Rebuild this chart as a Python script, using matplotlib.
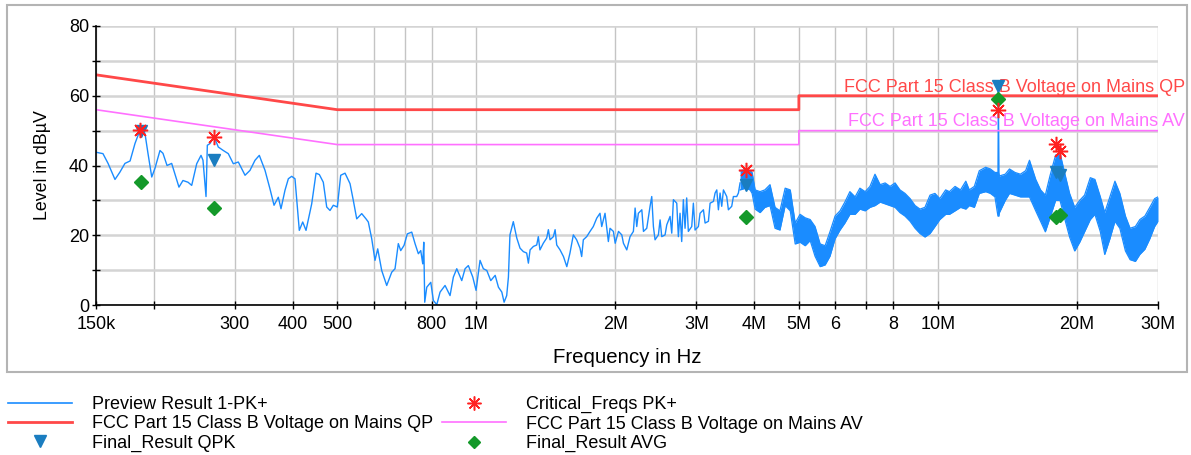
import matplotlib
matplotlib.use("Agg")
import matplotlib.pyplot as plt
from matplotlib.lines import Line2D
from matplotlib.patches import Rectangle
from matplotlib.ticker import FixedLocator, MultipleLocator, FuncFormatter
from matplotlib.transforms import blended_transform_factory

plt.rcParams['font.family'] = ['Liberation Sans', 'DejaVu Sans']

# Preview scan, 150 kHz .. 3.73 MHz (MHz, dBuV)
preview_f = [0.1500, 0.1553, 0.1593, 0.1649, 0.1690, 0.1733, 0.1778, 0.1822, 0.1870, 0.1915,
             0.1944, 0.1981, 0.2013, 0.2064, 0.2095, 0.2138, 0.2188, 0.2269, 0.2315, 0.2374,
             0.2418, 0.2479, 0.2533, 0.2558, 0.2597, 0.2614, 0.2649, 0.2703, 0.2761, 0.2831,
             0.2902, 0.2976, 0.3051, 0.3155, 0.3234, 0.3316, 0.3388, 0.3486, 0.3573, 0.3646,
             0.3725, 0.3775, 0.3851, 0.3916, 0.3982, 0.4048, 0.4136, 0.4207, 0.4277, 0.4400,
             0.4496, 0.4571, 0.4662, 0.4742, 0.4821, 0.4901, 0.5000, 0.5085, 0.5196, 0.5327,
             0.5415, 0.5508, 0.5647, 0.5769, 0.5836, 0.5936, 0.6034, 0.6116, 0.6239, 0.6397,
             0.6559, 0.6668, 0.6778, 0.6860, 0.6975, 0.7090, 0.7248, 0.7368, 0.7491, 0.7581,
             0.7657, 0.7696, 0.7733, 0.7812, 0.7970, 0.8073, 0.8212, 0.8348, 0.8558, 0.8774,
             0.8920, 0.9073, 0.9302, 0.9457, 0.9613, 0.9828, 0.9990, 1.019, 1.036, 1.054,
             1.075, 1.099, 1.117, 1.136, 1.149, 1.164, 1.174, 1.183, 1.203, 1.224,
             1.244, 1.265, 1.286, 1.297, 1.308, 1.330, 1.352, 1.363, 1.374, 1.397,
             1.421, 1.433, 1.445, 1.469, 1.482, 1.494, 1.519, 1.545, 1.571, 1.596,
             1.623, 1.650, 1.678, 1.692, 1.706, 1.735, 1.764, 1.793, 1.824, 1.854,
             1.870, 1.901, 1.933, 1.949, 1.982, 2.000, 2.033, 2.067, 2.084, 2.119,
             2.154, 2.190, 2.209, 2.227, 2.245, 2.284, 2.303, 2.341, 2.380, 2.400,
             2.420, 2.440, 2.481, 2.502, 2.523, 2.565, 2.587, 2.630, 2.652, 2.674,
             2.719, 2.741, 2.764, 2.787, 2.810, 2.834, 2.857, 2.881, 2.930, 2.954,
             2.979, 3.029, 3.054, 3.106, 3.132, 3.184, 3.211, 3.265, 3.292, 3.320,
             3.347, 3.375, 3.403, 3.432, 3.489, 3.518, 3.577, 3.607, 3.667, 3.698,
             3.729]
preview_v = [43.8, 43.4, 40.6, 36.0, 38.1, 40.6, 41.3, 46.3, 50.3, 49.2,
             43.5, 36.7, 39.2, 44.3, 43.5, 40.0, 40.6, 33.8, 35.7, 35.2,
             34.3, 40.5, 42.9, 41.5, 31.1, 45.8, 46.3, 48.3, 45.3, 44.3,
             43.4, 40.5, 41.0, 37.2, 38.6, 41.5, 42.9, 38.6, 33.3, 28.6,
             30.9, 27.6, 32.9, 36.2, 36.9, 36.2, 21.4, 23.8, 21.4, 29.0,
             37.8, 37.4, 35.2, 28.1, 27.1, 28.6, 28.1, 37.2, 37.8, 34.8,
             30.0, 24.7, 26.2, 24.7, 23.8, 19.0, 12.8, 16.1, 9.9, 5.6,
             9.4, 10.4, 17.6, 15.6, 17.1, 20.4, 20.9, 17.6, 14.7, 15.6,
             11.8, 18.0, 0.8, 5.1, 6.5, 1.3, 0.1, 3.7, 5.6, 2.7,
             8.0, 10.4, 7.0, 10.4, 11.3, 8.0, 4.2, 12.8, 10.4, 9.9,
             7.0, 8.5, 5.1, 3.7, 0.8, 2.7, 8.0, 20.1, 23.9, 19.2,
             16.3, 15.3, 14.9, 12.0, 15.8, 16.8, 17.2, 19.6, 15.8, 17.7,
             19.2, 21.6, 18.7, 19.6, 21.6, 17.2, 15.8, 13.9, 11.0, 14.9,
             20.1, 18.7, 16.3, 13.9, 18.7, 19.6, 21.1, 22.5, 24.9, 26.3,
             22.5, 26.3, 18.2, 22.0, 21.1, 17.7, 21.1, 20.1, 17.7, 15.8,
             19.6, 21.1, 27.8, 22.5, 26.3, 27.3, 21.1, 22.0, 28.3, 31.1,
             22.5, 18.7, 20.1, 24.4, 19.6, 20.1, 23.0, 25.4, 20.6, 30.2,
             29.2, 19.6, 26.3, 18.2, 30.2, 22.0, 30.7, 21.1, 22.5, 29.2,
             21.5, 22.5, 26.3, 27.3, 23.5, 24.0, 29.2, 29.7, 32.1, 33.0,
             27.3, 32.1, 28.3, 33.0, 31.1, 27.3, 28.3, 31.1, 31.1, 32.1,
             35.0]

# Preview scan above 3.73 MHz: min / max of the dense sweep (MHz, dBuV)
band_f = [3.729, 3.83, 3.92, 3.96, 4.02, 4.12, 4.22, 4.33, 4.44, 4.55,
          4.67, 4.79, 4.91, 5.03, 5.16, 5.29, 5.42, 5.56, 5.70, 5.84,
          5.99, 6.14, 6.29, 6.45, 6.62, 6.78, 6.96, 7.13, 7.31, 7.50,
          7.69, 7.88, 8.08, 8.28, 8.49, 8.71, 8.93, 9.15, 9.38, 9.62,
          9.86, 10.1, 10.4, 10.6, 10.9, 11.2, 11.5, 11.7, 12.0, 12.3,
          12.7, 13.0, 13.3, 13.50, 13.53, 13.56, 13.6, 14.0, 14.3, 14.7,
          15.1, 15.5, 15.8, 16.3, 16.7, 17.1, 17.5, 18.0, 18.4, 18.9,
          19.3, 19.8, 20.3, 20.8, 21.4, 21.9, 22.5, 23.0, 23.6, 24.2,
          24.8, 25.5, 26.1, 26.8, 27.4, 28.1, 28.8, 29.5, 30.0]
band_hi = [38.5, 38.8, 38.5, 38.0, 33.0, 32.5, 33.0, 34.5, 28.0, 27.0,
           33.5, 33.0, 23.5, 26.0, 25.0, 24.5, 22.5, 17.5, 17.0, 21.0,
           25.5, 27.0, 29.5, 32.5, 31.0, 33.5, 32.5, 34.0, 37.5, 34.5,
           35.0, 34.0, 35.0, 33.0, 32.0, 30.5, 28.5, 27.5, 28.0, 31.5,
           32.0, 30.5, 33.0, 32.5, 34.0, 33.0, 35.5, 33.0, 34.0, 38.5,
           39.5, 39.0, 38.0, 38.0, 62.5, 38.0, 37.0, 37.5, 39.0, 38.0,
           37.5, 38.5, 41.5, 36.0, 33.0, 31.5, 37.0, 43.0, 43.5, 37.0,
           32.0, 28.0, 30.0, 31.5, 36.5, 36.0, 31.0, 26.5, 31.0, 35.5,
           32.0, 25.5, 22.0, 22.5, 24.5, 25.5, 28.0, 30.5, 31.0]
band_lo = [33.0, 33.5, 33.0, 32.0, 27.5, 26.5, 28.0, 28.5, 22.0, 21.5,
           28.5, 27.0, 17.5, 18.0, 17.0, 18.5, 14.0, 11.0, 11.5, 14.0,
           19.0, 21.5, 23.5, 26.0, 26.0, 27.5, 27.0, 28.0, 28.5, 29.5,
           29.0, 28.5, 28.0, 26.5, 25.5, 24.0, 22.0, 20.5, 19.5, 20.5,
           22.5, 24.5, 26.0, 26.0, 27.0, 28.0, 27.5, 28.5, 28.0, 32.0,
           32.5, 32.0, 31.0, 25.5, 25.5, 25.5, 26.5, 30.0, 32.0, 31.5,
           31.0, 31.0, 31.0, 27.0, 24.0, 21.0, 25.0, 30.0, 30.0, 24.0,
           19.5, 15.5, 18.0, 21.0, 24.5, 26.0, 21.0, 14.5, 19.0, 24.0,
           22.0, 15.5, 13.0, 12.5, 14.5, 16.0, 19.0, 22.5, 24.0]

# FCC Part 15 class B conducted limits
limit_f = [0.15, 0.5, 0.5, 5.0, 5.0, 30.0]
limit_qp = [66, 56, 56, 56, 60, 60]
limit_av = [56, 46, 46, 46, 50, 50]

# Peak search and final measurement results
crit_f = [0.187, 0.270, 3.84, 13.53, 18.0, 18.4]
crit_v = [50.1, 48.2, 38.6, 55.8, 46.3, 44.1]
qpk_f = [0.188, 0.270, 3.84, 13.53, 18.0, 18.4]
qpk_v = [49.8, 41.6, 34.5, 62.7, 38.0, 37.2]
avg_f = [0.188, 0.270, 3.84, 13.53, 18.0, 18.4]
avg_v = [35.3, 27.7, 25.1, 59.0, 25.3, 25.9]

xtick_pos = [0.15, 0.2, 0.3, 0.4, 0.5, 0.6, 0.7, 0.8, 1, 2, 3, 4, 5, 6, 7, 8, 10, 20, 30]
xtick_lbl = ['150k', '', '300', '400', '500', '', '', '800', '1M', '2M', '3M', '4M', '5M',
             '6', '', '8', '10M', '20M', '30M']

c_trace = '#1A8CFF'
c_qp = '#FF4848'
c_av = '#FF70FF'
c_qpk = '#1A7DC0'
c_avg = '#14992A'
c_crit = '#FF2020'
fs = 13

fig = plt.figure(figsize=(11.91, 4.55), dpi=100)
ax = fig.add_axes([96 / 1191, 1 - 305 / 455, (1158 - 96) / 1191, (305 - 26) / 455])

# outer frame around the plot area
fig.patches.append(Rectangle((7 / 1191, 1 - 372 / 455), 1180 / 1191, 367 / 455,
                             transform=fig.transFigure, fill=False,
                             edgecolor='#B4B4B4', lw=1.5, zorder=0))

ax.set_xscale('log')
ax.set_xlim(0.15, 30)
ax.set_ylim(0, 80)

ax.plot(preview_f, preview_v, color=c_trace, lw=1.0, zorder=2)
ax.fill_between(band_f, band_lo, band_hi, color=c_trace, lw=0, zorder=2)
ax.plot(band_f, band_hi, color=c_trace, lw=0.9, zorder=2)
ax.plot(band_f, band_lo, color=c_trace, lw=0.9, zorder=2)

ax.plot(limit_f, limit_qp, color=c_qp, lw=2.0, zorder=3)
ax.plot(limit_f, limit_av, color=c_av, lw=1.2, zorder=3)

ax.plot(qpk_f, qpk_v, ls='none', marker='v', ms=8, color=c_qpk, zorder=5)
ax.plot(avg_f, avg_v, ls='none', marker='D', ms=7, color=c_avg, zorder=5)
ax.plot(crit_f, crit_v, ls='none', marker=(8, 2, 0), ms=11, mew=1.1, color=c_crit, zorder=6)

trans = blended_transform_factory(fig.transFigure, ax.transData)
ax.text(1185 / 1191, 61.1, 'FCC Part 15 Class B Voltage on Mains QP', color=c_qp,
        fontsize=fs, ha='right', va='baseline', transform=trans, clip_on=False, zorder=4)
ax.text(1185 / 1191, 51.3, 'FCC Part 15 Class B Voltage on Mains AV', color=c_av,
        fontsize=fs, ha='right', va='baseline', transform=trans, clip_on=False, zorder=4)

# axes, ticks and grid
ax.xaxis.set_major_locator(FixedLocator(xtick_pos))
ax.xaxis.set_minor_locator(FixedLocator([]))
ax.set_xticklabels(xtick_lbl)
ax.yaxis.set_major_locator(MultipleLocator(10))
ax.yaxis.set_major_formatter(FuncFormatter(lambda v, p: '%d' % v if v % 20 == 0 else ''))
ax.tick_params(direction='inout', length=6, width=1.0, labelsize=fs)
ax.tick_params(axis='x', pad=5)
ax.tick_params(axis='y', pad=2)
ax.grid(axis='x', color='#C4C4C4', lw=1.0, zorder=0)
ax.grid(axis='y', color='#D4D4D4', lw=1.8, zorder=0)
ax.set_axisbelow(True)
for side in ('top', 'right'):
    ax.spines[side].set_visible(False)
for side in ('left', 'bottom'):
    ax.spines[side].set_linewidth(1.2)
    ax.spines[side].set_zorder(7)

ax.set_xlabel('Frequency in Hz', fontsize=14.7, labelpad=11)
ax.set_ylabel('Level in dBµV', fontsize=12.8, labelpad=13)

handles = [
    Line2D([], [], color=c_trace, lw=1.2),
    Line2D([], [], color=c_qp, lw=2.0),
    Line2D([], [], ls='none', marker='v', ms=8, color=c_qpk),
    Line2D([], [], ls='none', marker=(8, 2, 0), ms=10, mew=1.1, color=c_crit),
    Line2D([], [], color=c_av, lw=1.2),
    Line2D([], [], ls='none', marker='D', ms=6, color=c_avg),
]
labels = ['Preview Result 1-PK+', 'FCC Part 15 Class B Voltage on Mains QP', 'Final_Result QPK',
          'Critical_Freqs PK+', 'FCC Part 15 Class B Voltage on Mains AV', 'Final_Result AVG']
fig.legend(handles, labels, ncol=2, loc='upper left', bbox_to_anchor=(8 / 1191, 1 - 396 / 455),
           frameon=False, fontsize=fs, handlelength=3.55, handletextpad=1.1,
           columnspacing=0.5, labelspacing=0.13, borderpad=0, borderaxespad=0)

fig.savefig('out.png', dpi=100)
